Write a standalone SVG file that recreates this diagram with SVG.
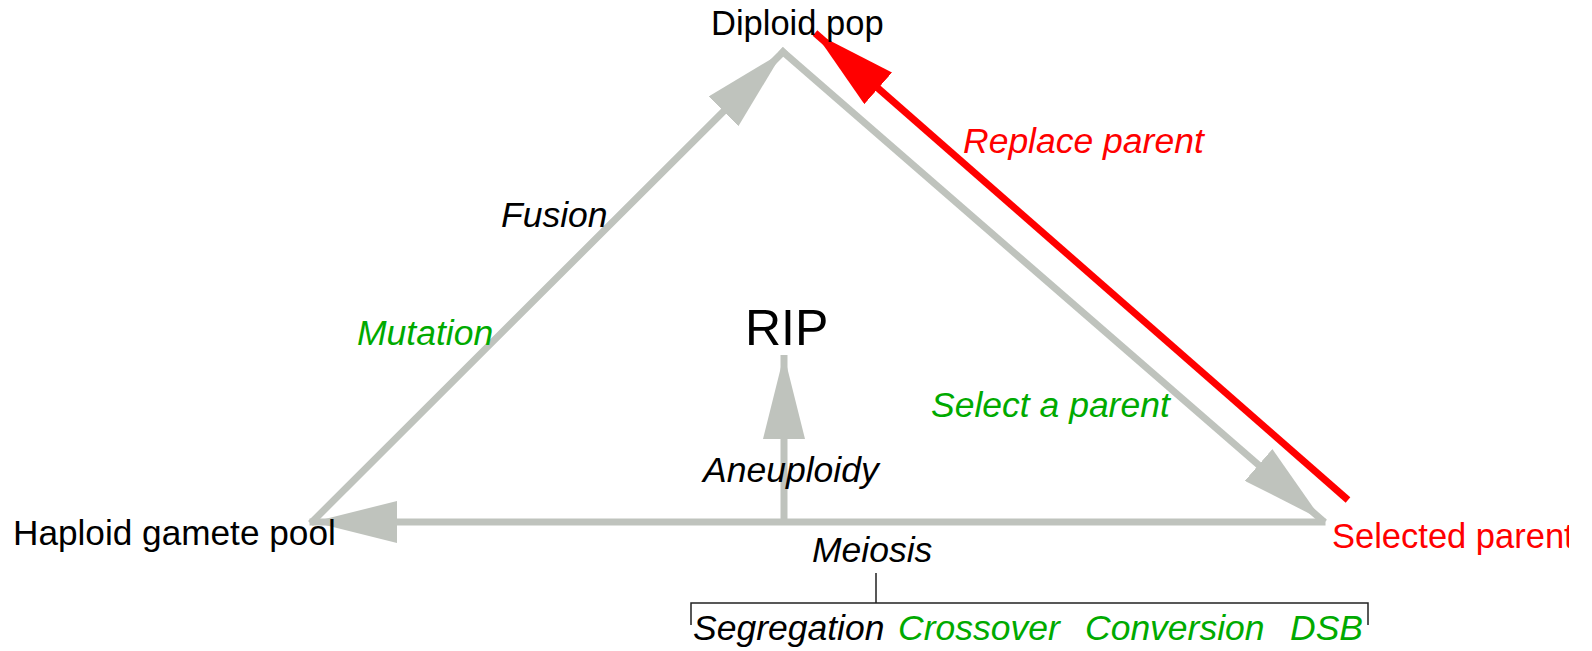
<svg xmlns="http://www.w3.org/2000/svg" width="1592" height="651" viewBox="0 0 1592 651">
  <style>
    .lbl { font-family: "Liberation Sans", Arial, sans-serif; font-size: 34.5px; }
    .it { font-family: "Liberation Sans", Arial, sans-serif; font-size: 35.5px; font-style: italic; }
    .blk { fill: #000000; }
    .grn { fill: #00AA00; }
    .red { fill: #FF0000; }
    .edge { fill: none; stroke: #BFC3BD; stroke-width: 7; stroke-linecap: square; }
    .edge-red { fill: none; stroke: #FF0000; stroke-width: 7; stroke-linecap: butt; }
    .bracket { fill: none; stroke: #222222; stroke-width: 1.5; }
  </style>
  <defs>
    <marker id="arrow-gray" markerUnits="userSpaceOnUse" markerWidth="84" markerHeight="42" viewBox="0 0 84 42" refX="84" refY="21" orient="auto">
      <path d="M0,0 L84,21 L0,42 Z" fill="#BFC3BD"/>
    </marker>
    <marker id="arrow-red" markerUnits="userSpaceOnUse" markerWidth="84" markerHeight="42" viewBox="0 0 84 42" refX="84" refY="21" orient="auto">
      <path d="M0,0 L84,21 L0,42 Z" fill="#FF0000"/>
    </marker>
    <clipPath id="page-clip">
      <rect x="0" y="0" width="1569" height="651"/>
    </clipPath>
  </defs>

  <rect x="0" y="0" width="1592" height="651" fill="#FFFFFF"/>

  <!-- connectors -->
  <g id="connectors">
    <path id="edge-fusion" class="edge" d="M313,521 L783,52" marker-end="url(#arrow-gray)"/>
    <path id="edge-select" class="edge" d="M783,52 L1322,520" marker-end="url(#arrow-gray)"/>
    <path id="edge-meiosis" class="edge" d="M1322,522 L313,522" marker-end="url(#arrow-gray)"/>
    <path id="edge-aneuploidy" class="edge" style="stroke-linecap:butt" d="M784,522 L784,355" marker-end="url(#arrow-gray)"/>
    <path id="edge-replace" class="edge-red" d="M1348,500 L815,33" marker-end="url(#arrow-red)"/>
    <!-- meiosis sub-steps bracket -->
    <path id="meiosis-bracket" class="bracket" d="M876,573 V603 M691,625 V603 H1368 V625"/>
  </g>

  <!-- edge labels -->
  <g id="edge-labels">
    <text class="it blk" x="501" y="227">Fusion</text>
    <text class="it grn" x="357" y="345">Mutation</text>
    <text class="it red" x="963" y="153">Replace parent</text>
    <text class="it grn" x="931" y="417">Select a parent</text>
    <text class="it blk" x="703" y="482">Aneuploidy</text>
    <text class="it blk" x="812" y="562">Meiosis</text>
  </g>

  <g id="node-diploid">
    <text class="lbl blk" x="711" y="35">Diploid pop</text>
  </g>
  <g id="node-haploid">
    <text class="lbl blk" x="13" y="545" style="font-size:35.2px">Haploid gamete pool</text>
  </g>
  <g id="node-selected">
    <text class="lbl red" x="1332" y="548" clip-path="url(#page-clip)">Selected parent</text>
  </g>
  <g id="node-rip">
    <text class="lbl blk" x="745" y="345" style="font-size:50px">RIP</text>
  </g>

  <g id="node-meiosis-steps">
    <text class="it blk" x="693" y="640">Segregation</text>
    <text class="it grn" x="898" y="640">Crossover</text>
    <text class="it grn" x="1085" y="640">Conversion</text>
    <text class="it grn" x="1290" y="640">DSB</text>
  </g>
</svg>
